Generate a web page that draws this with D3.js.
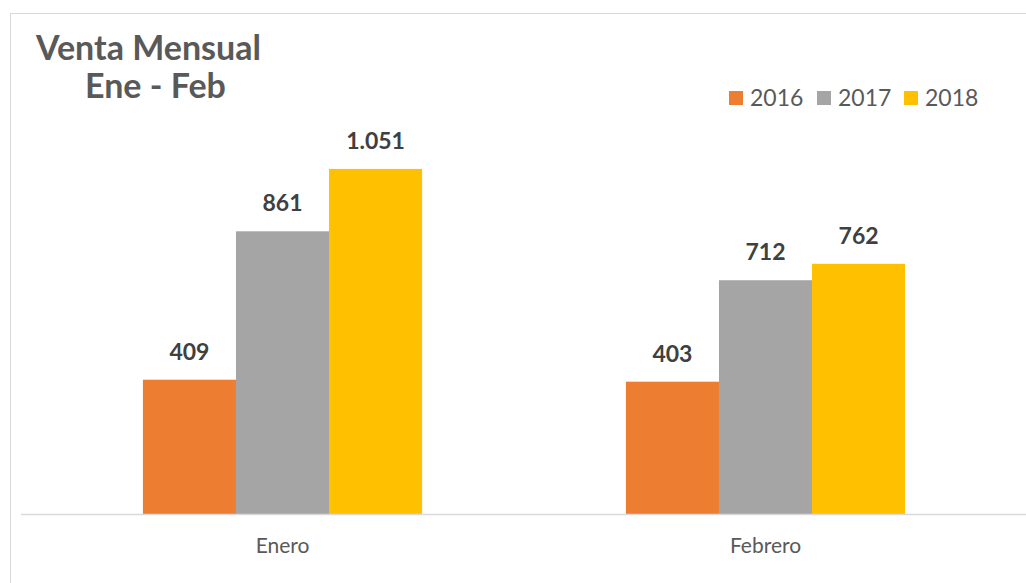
<!DOCTYPE html>
<html>
<head>
<meta charset="utf-8">
<script src="https://cdn.jsdelivr.net/npm/d3@7"></script>
<style>
  body { margin: 0; background: #fff; }
  text { font-family: Lato, 'Open Sans', sans-serif; }
</style>
</head>
<body>
<div id="viz"></div>
<script>
const categories = ['Enero', 'Febrero'];
const years = ['2016', '2017', '2018'];
const values2016 = [409, 403];
const values2017 = [861, 712];
const values2018 = [1051, 762];
const colors = ['#ed7d31', '#a5a5a5', '#ffc000'];

(() => {
  let width = 1026,
    height = 583;

  let svg = d3.select('#viz')
    .append('svg')
    .attr('width', width)
    .attr('height', height);

  // chart border (only top and left visible in the crop)
  svg.append('rect')
    .attr('x', 10.5)
    .attr('y', 13.5)
    .attr('width', 1040)
    .attr('height', 600)
    .attr('fill', 'none')
    .attr('stroke', '#d9d9d9');

  let series = [values2016, values2017, values2018];
  let data = categories.map((c, i) => ({
    cat: c,
    vals: years.map((yr, j) => ({ year: yr, val: series[j][i], idx: j }))
  }));

  let x = d3.scaleBand()
    .domain(categories)
    .range([41, 1007])
    .paddingInner(0.422)
    .paddingOuter(0.211);

  let xi = d3.scaleBand()
    .domain(years)
    .range([0, x.bandwidth()]);

  let y = d3.scaleLinear()
    .domain([0, 1200])
    .range([514, 120]);

  let groups = svg.selectAll('.cat')
    .data(data)
    .join('g')
    .attr('class', 'cat')
    .attr('transform', d => `translate(${x(d.cat)},0)`);

  groups.selectAll('rect')
    .data(d => d.vals)
    .join('rect')
    .attr('x', d => xi(d.year))
    .attr('y', d => y(d.val))
    .attr('width', xi.bandwidth())
    .attr('height', d => y(0) - y(d.val))
    .style('fill', d => colors[d.idx]);

  groups.selectAll('.lbl')
    .data(d => d.vals)
    .join('text')
    .attr('class', 'lbl')
    .attr('x', d => xi(d.year) + xi.bandwidth() / 2)
    .attr('y', d => y(d.val) - 20)
    .attr('text-anchor', 'middle')
    .style('font-size', '23px')
    .style('font-weight', 'bold')
    .style('fill', '#404040')
    .text(d => d3.format(',')(d.val).replace(',', '.'));

  // baseline
  svg.append('line')
    .attr('x1', 21)
    .attr('x2', 1026)
    .attr('y1', y(0) + 0.5)
    .attr('y2', y(0) + 0.5)
    .attr('stroke', '#d9d9d9')
    .attr('stroke-width', 1.5);

  let xAxis = svg.append('g')
    .attr('transform', `translate(0,${y(0)})`)
    .call(d3.axisBottom(x).tickSize(0).tickPadding(24));
  xAxis.select('.domain').remove();
  xAxis.selectAll('text')
    .style('font-size', '21px')
    .style('fill', '#595959');

  // title
  svg.append('text')
    .attr('x', 36)
    .attr('y', 60)
    .style('font-size', '34px')
    .style('font-weight', 'bold')
    .style('fill', '#595959')
    .text('Venta Mensual');
  svg.append('text')
    .attr('x', 85)
    .attr('y', 98)
    .style('font-size', '34px')
    .style('font-weight', 'bold')
    .style('fill', '#595959')
    .text('Ene - Feb');

  // legend
  let legendX = [729, 817, 904];
  let legend = svg.selectAll('.legend')
    .data(years)
    .join('g')
    .attr('class', 'legend')
    .attr('transform', (d, i) => `translate(${legendX[i]},91)`);
  legend.append('rect')
    .attr('width', 14)
    .attr('height', 14)
    .style('fill', (d, i) => colors[i]);
  legend.append('text')
    .attr('x', 21)
    .attr('y', 15)
    .style('font-size', '23px')
    .style('fill', '#595959')
    .text(d => d);
})();
</script>
</body>
</html>
